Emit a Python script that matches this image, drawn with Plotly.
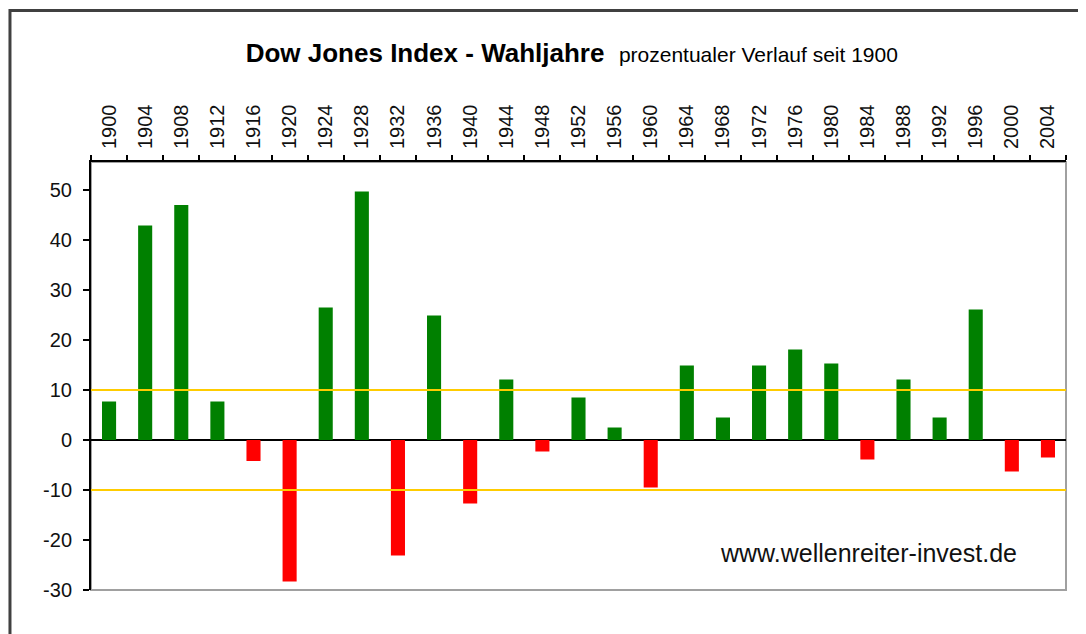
import plotly.graph_objects as go

# Wahljahre und prozentuale Veränderung des Dow Jones im jeweiligen Jahr
YEARS = ['1900', '1904', '1908', '1912', '1916', '1920', '1924', '1928', '1932',
         '1936', '1940', '1944', '1948', '1952', '1956', '1960', '1964', '1968',
         '1972', '1976', '1980', '1984', '1988', '1992', '1996', '2000', '2004']
CHANGES = [7.7, 42.9, 47.0, 7.7, -4.2, -28.3, 26.5, 49.7, -23.1,
           24.9, -12.7, 12.1, -2.3, 8.5, 2.5, -9.5, 14.9, 4.5,
           14.9, 18.1, 15.3, -3.9, 12.1, 4.5, 26.1, -6.3, -3.5]
Y_TICKS = [-30, -20, -10, 0, 10, 20, 30, 40, 50]
LIMITS = [10, -10]  # gelbe Hilfslinien

FONT = 'Arial, Liberation Sans, sans-serif'
GREEN = '#008000'
RED = '#FF0000'

colors = [GREEN if v >= 0 else RED for v in CHANGES]

fig = go.Figure(go.Bar(x=YEARS, y=CHANGES, marker_color=colors,
                       marker_line_width=0))

# die Seite hat 8px Rand, daher etwas kleiner als das Fenster
fig.update_layout(
    width=1078, height=626,
    margin={"l": 83, "r": 20, "t": 154, "b": 44},
    paper_bgcolor='white',
    plot_bgcolor='white',
    font=dict(family=FONT, color='#111111'),
    showlegend=False,
    bargap=0.61,
    title=dict(
        text="<b>Dow Jones Index - Wahljahre</b>  "
             "<span style='font-size:21px'>prozentualer Verlauf seit 1900</span>",
        font=dict(size=26, family=FONT, color='black'),
        x=0.523, xanchor='center', xref='container',
        y=0.928, yanchor='middle', yref='container'),
    xaxis=dict(
        type='category', side='top', tickangle=-90,
        tickfont=dict(size=20),
        ticks='outside', ticklen=5, tickwidth=1.5, tickcolor='black',
        tickson='boundaries',
        showline=True, linecolor='black', linewidth=2,
        showgrid=False, ticklabelstandoff=7),
    yaxis=dict(
        range=[-30, 55.6], tickvals=Y_TICKS,
        ticktext=[str(v) for v in Y_TICKS],
        tickfont=dict(size=20),
        ticks='outside', ticklen=6, tickwidth=1.5, tickcolor='black',
        showline=True, linecolor='black', linewidth=2,
        showgrid=False, zeroline=True, zerolinecolor='black',
        zerolinewidth=2, ticklabelstandoff=7),
    shapes=[
        # grauer Rahmen des Plotbereichs
        dict(type='rect', xref='paper', yref='paper', x0=0, x1=1, y0=0, y1=1,
             line=dict(color='#A0A0A0', width=2), layer='below'),
        # äußerer Rahmen des Diagramms
        dict(type='rect', xref='paper', yref='paper',
             x0=-0.0831, x1=1.05, y0=-0.15, y1=1.3540,
             line=dict(color='#404040', width=3), layer='above'),
    ],
    annotations=[
        dict(text='www.wellenreiter-invest.de', xref='paper', yref='paper',
             x=0.952, y=0.086, xanchor='right', yanchor='middle',
             showarrow=False, font=dict(size=25, family=FONT, color='#111111')),
    ],
)

for lim in LIMITS:
    fig.add_hline(y=lim, line_color='#FFCC00', line_width=2, layer='above')

fig.write_html("out.html")
